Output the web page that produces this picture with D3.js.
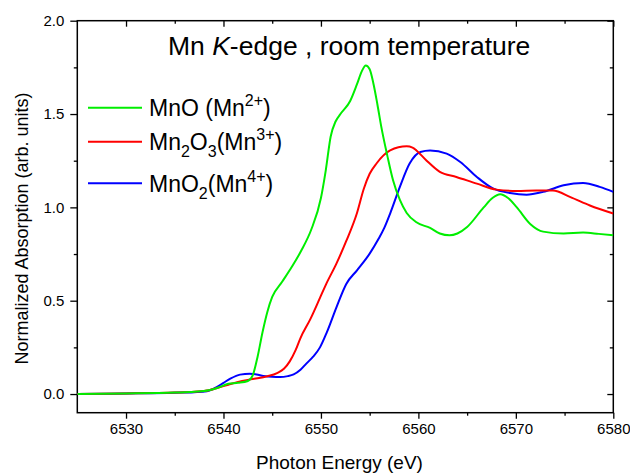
<!DOCTYPE html>
<html lang="en">
<head>
    <meta charset="UTF-8">
    <title>Mn K-edge XANES</title>
    <script src="https://cdn.jsdelivr.net/npm/d3@7/dist/d3.min.js"></script>
    <style type="text/css">
        body { margin: 0; background: #fff; }
        svg text { font-family: "Liberation Sans", Arial, sans-serif; fill: #000; }
        .line { fill: none; stroke-width: 2; }
        .axis path { display: none; }
        .axis line { stroke: #000; stroke-width: 1.3; }
    </style>
</head>
<body>
<div id="vis"></div>
<script type="text/javascript">

    // MnO (Mn2+)
    let mnoEnergy = [6525, 6530, 6535, 6537, 6538.5, 6539.5, 6540.5, 6541.5, 6542.5, 6543, 6543.5, 6544, 6544.5, 6545,
        6546, 6547, 6548, 6549, 6550, 6550.5, 6551, 6551.5, 6552, 6553, 6553.7, 6554.2, 6554.6, 6555, 6555.4, 6555.8,
        6556.2, 6556.8, 6557.4, 6558.1, 6558.8, 6559.8, 6561.2, 6562.2, 6563.2, 6564, 6565, 6566.7, 6567.6, 6568.4,
        6569.2, 6570.1, 6571.5, 6572.8, 6574.9, 6576.9, 6578.5, 6580];
    let mnoValues = [0.0, 0.003, 0.008, 0.012, 0.02, 0.035, 0.055, 0.06, 0.07, 0.1, 0.2, 0.33, 0.44, 0.52,
        0.6, 0.68, 0.77, 0.88, 1.05, 1.2, 1.38, 1.46, 1.5, 1.57, 1.66, 1.73, 1.76, 1.74, 1.66, 1.55,
        1.43, 1.28, 1.145, 1.04, 0.97, 0.92, 0.89, 0.86, 0.85, 0.86, 0.895, 1.0, 1.05, 1.07,
        1.05, 1.0, 0.91, 0.87, 0.86, 0.865, 0.858, 0.85];

    // Mn2O3 (Mn3+)
    let mn2o3Energy = [6525, 6530, 6535, 6537, 6538.5, 6539.5, 6540.5, 6541.5, 6543, 6544.5, 6545.5, 6546.2, 6546.8,
        6547.4, 6547.9, 6548.9, 6549.9, 6550.5, 6551.6, 6552.6, 6553.7, 6554.4, 6555, 6555.7, 6557.1, 6558.8, 6559.4,
        6559.8, 6560.85, 6562.2, 6563.9, 6566, 6568, 6570.1, 6572.1, 6573.8, 6575.6, 6577.6, 6580];
    let mn2o3Values = [0.0, 0.003, 0.008, 0.012, 0.02, 0.035, 0.05, 0.065, 0.08, 0.095, 0.112, 0.135, 0.175,
        0.235, 0.3, 0.4, 0.515, 0.585, 0.7, 0.82, 0.97, 1.1, 1.18, 1.235, 1.305, 1.327, 1.32,
        1.305, 1.25, 1.19, 1.163, 1.127, 1.095, 1.088, 1.09, 1.09, 1.055, 1.01, 0.967];

    // MnO2 (Mn4+)
    let mno2Energy = [6525, 6530, 6535, 6537, 6538.3, 6539.3, 6540, 6540.7, 6541.7, 6542.7, 6543.4, 6544.1, 6545,
        6545.8, 6546.6, 6547.2, 6547.9, 6548.5, 6549.2, 6549.9, 6550.6, 6551.6, 6552.6, 6553.7, 6555, 6555.9, 6556.5,
        6557.1, 6558.1, 6559.1, 6560.2, 6561.2, 6562.9, 6564.3, 6566, 6567.7, 6569.4, 6571.1, 6572.8, 6574.9,
        6576.9, 6578.6, 6580];
    let mno2Values = [0.0, 0.003, 0.007, 0.01, 0.015, 0.037, 0.06, 0.082, 0.104, 0.109, 0.105, 0.097, 0.092,
        0.091, 0.096, 0.105, 0.13, 0.163, 0.2, 0.25, 0.33, 0.466, 0.59, 0.663, 0.752, 0.83, 0.89,
        0.967, 1.11, 1.235, 1.297, 1.305, 1.288, 1.243, 1.163, 1.1, 1.077, 1.068, 1.083, 1.118,
        1.13, 1.11, 1.083];

    let xMajorTicks = [6530, 6540, 6550, 6560, 6570, 6580];
    let xMinorTicks = [6535, 6545, 6555, 6565, 6575];
    let yMajorTicks = [0.0, 0.5, 1.0, 1.5, 2.0];
    let yMinorTicks = [0.25, 0.75, 1.25, 1.75];

    let seriesList = [
        {name: "MnO", sub: "", rest: "", ox: "2+", energy: mnoEnergy, values: mnoValues, color: "#00ee00"},
        {name: "Mn", sub: "2", rest: "O", sub2: "3", ox: "3+", energy: mn2o3Energy, values: mn2o3Values, color: "#ff0000"},
        {name: "MnO", sub: "2", rest: "", ox: "4+", energy: mno2Energy, values: mno2Values, color: "#0000ff"}
    ];

    let fullWidth = 630, fullHeight = 473;
    let margin = {top: 20.7, right: 16.7, bottom: 60.3, left: 77.3};
    let width = fullWidth - margin.left - margin.right;
    let height = fullHeight - margin.top - margin.bottom;

    let xScale = d3.scaleLinear().domain([6525, 6580]).range([0, width]);
    let yScale = d3.scaleLinear().domain([-0.1, 2.0]).range([height, 0]);

    let svg = d3.select("#vis").append("svg")
        .attr("width", fullWidth)
        .attr("height", fullHeight)
        .append("g")
        .attr("transform", "translate(" + margin.left + "," + margin.top + ")");

    svg.append("clipPath").attr("id", "plotClip")
        .append("rect").attr("width", width).attr("height", height);

    // bottom axis: outward ticks with labels
    svg.append("g").attr("class", "axis")
        .attr("transform", "translate(0," + height + ")")
        .call(d3.axisBottom(xScale).tickValues(xMajorTicks).tickSize(6).tickPadding(5)
            .tickFormat(d3.format("d")))
        .selectAll("text").style("font-size", "15px");
    svg.append("g").attr("class", "axis")
        .attr("transform", "translate(0," + height + ")")
        .call(d3.axisBottom(xScale).tickValues(xMinorTicks).tickSize(3).tickFormat(""));

    // top axis: inward ticks
    svg.append("g").attr("class", "axis")
        .call(d3.axisBottom(xScale).tickValues(xMajorTicks).tickSize(6).tickFormat(""));
    svg.append("g").attr("class", "axis")
        .call(d3.axisBottom(xScale).tickValues(xMinorTicks).tickSize(3).tickFormat(""));

    // left axis: outward ticks with labels
    svg.append("g").attr("class", "axis")
        .call(d3.axisLeft(yScale).tickValues(yMajorTicks).tickSize(7).tickPadding(6)
            .tickFormat(d3.format(".1f")))
        .selectAll("text").style("font-size", "15px");
    svg.append("g").attr("class", "axis")
        .call(d3.axisLeft(yScale).tickValues(yMinorTicks).tickSize(3.5).tickFormat(""));

    // right axis: inward ticks
    svg.append("g").attr("class", "axis")
        .attr("transform", "translate(" + width + ",0)")
        .call(d3.axisLeft(yScale).tickValues(yMajorTicks).tickSize(6).tickFormat(""));
    svg.append("g").attr("class", "axis")
        .attr("transform", "translate(" + width + ",0)")
        .call(d3.axisLeft(yScale).tickValues(yMinorTicks).tickSize(3.5).tickFormat(""));

    // frame
    svg.append("rect")
        .attr("width", width).attr("height", height)
        .attr("fill", "none").attr("stroke", "#000").attr("stroke-width", 1.5);

    let line = d3.line()
        .x(function(d) { return xScale(d.e); })
        .y(function(d) { return yScale(d.v); })
        .curve(d3.curveMonotoneX);

    // draw blue first, green on top
    for (let s of seriesList.slice().reverse()) {
        let pts = s.energy.map(function(e, i) { return {e: e, v: s.values[i]}; });
        svg.append("path")
            .datum(pts)
            .attr("class", "line")
            .attr("clip-path", "url(#plotClip)")
            .attr("stroke", s.color)
            .attr("d", line);
    }

    // title
    let title = svg.append("text")
        .attr("x", 168 - margin.left).attr("y", 55 - margin.top)
        .style("font-size", "26.5px");
    title.append("tspan").text("Mn ");
    title.append("tspan").style("font-style", "italic").text("K");
    title.append("tspan").text("-edge , room temperature");

    // legend
    let legendRows = [107.7, 141.7, 183.3];
    seriesList.forEach(function(s, i) {
        let ly = legendRows[i] - margin.top;
        svg.append("line")
            .attr("x1", 88 - margin.left).attr("x2", 142 - margin.left)
            .attr("y1", ly).attr("y2", ly)
            .attr("stroke", s.color).attr("stroke-width", 2);
        let t = svg.append("text")
            .attr("x", 149 - margin.left).attr("y", ly + 8.5)
            .style("font-size", "23px");
        t.append("tspan").text(s.name);
        if (s.sub) t.append("tspan").attr("dy", 7).style("font-size", "16px").text(s.sub);
        if (s.rest) t.append("tspan").attr("dy", -7).text(s.rest);
        if (s.sub2) t.append("tspan").attr("dy", 7).style("font-size", "16px").text(s.sub2);
        let back = s.sub2 ? -7 : (s.sub ? -7 : 0);
        t.append("tspan").attr("dy", back).text(i === 0 ? " (Mn" : "(Mn");
        t.append("tspan").attr("dy", -10).style("font-size", "16px").text(s.ox);
        t.append("tspan").attr("dy", 10).text(")");
    });

    // axis titles
    svg.append("text")
        .attr("x", 339.5 - margin.left).attr("y", 469 - margin.top)
        .attr("text-anchor", "middle")
        .style("font-size", "19px")
        .text("Photon Energy (eV)");

    svg.append("text")
        .attr("transform", "translate(" + (28 - margin.left) + "," + (228.5 - margin.top) + ") rotate(-90)")
        .attr("text-anchor", "middle")
        .style("font-size", "18px")
        .text("Normalized Absorption (arb. units)");
</script>
</body>
</html>
